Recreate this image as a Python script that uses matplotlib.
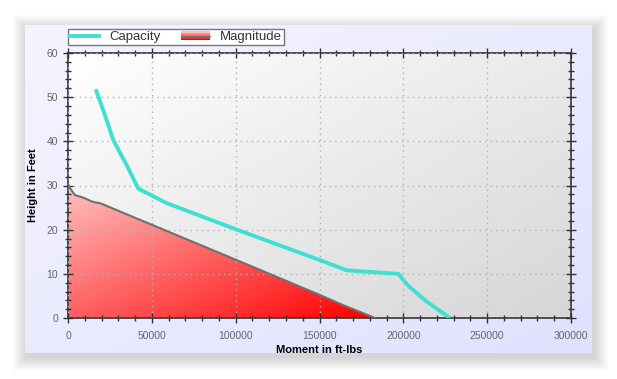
import numpy as np
import matplotlib.pyplot as plt
from matplotlib.patches import Rectangle, Polygon
from matplotlib.lines import Line2D
from matplotlib.legend_handler import HandlerBase
from matplotlib.ticker import MultipleLocator

plt.rcParams['font.family'] = ['Liberation Sans', 'DejaVu Sans']

# capacity curve (moment, height)
cap_x = [16500, 22000, 27000, 35000, 41900, 58900, 98600, 150300, 166200, 197000, 203000, 214000, 227900]
cap_y = [51.8, 46.0, 40.3, 34.6, 29.3, 26.0, 20.3, 13.1, 10.8, 10.0, 7.3, 3.7, 0.0]

# magnitude curve (moment, height)
mag_x = [0, 1200, 4200, 7200, 10100, 14100, 16100, 19100, 100000, 150300, 164200, 183100]
mag_y = [30.3, 29.4, 27.8, 27.5, 27.1, 26.4, 26.2, 26.0, 13.2, 5.2, 2.9, 0.0]

W, H = 617, 379
fig = plt.figure(figsize=(W / 100, H / 100), dpi=100)
fig.patch.set_facecolor('white')

# soft drop shadow behind the panel
px0, py0, px1, py1 = 25, 25, 592, 353
for i in range(14, 0, -1):
    fig.patches.append(Rectangle(((px0 - i + 2) / W, 1 - (py1 + i + 4) / H),
                                 (px1 - px0 + 2 * i) / W, (py1 - py0 + 2 * i) / H,
                                 transform=fig.transFigure, facecolor='black',
                                 alpha=0.01, edgecolor='none', zorder=-5))

# panel with light lavender gradient
pax = fig.add_axes([px0 / W, 1 - py1 / H, (px1 - px0) / W, (py1 - py0) / H], zorder=0)
gy, gx = np.mgrid[0:1:50j, 0:1:50j]
t = (gx + gy) / 2
c0 = np.array([0.96, 0.96, 1.0])
c1 = np.array([0.88, 0.88, 1.0])
pimg = c0[None, None, :] * (1 - t[..., None]) + c1[None, None, :] * t[..., None]
pax.imshow(pimg, extent=[0, 1, 0, 1], aspect='auto', origin='upper')
pax.set_axis_off()

ax = fig.add_axes([68 / W, 1 - 318 / H, 503 / W, 265 / H], zorder=1)

# plot area gradient: white top-left to grey bottom-right
a0 = np.array([1.0, 1.0, 1.0])
a1 = np.array([0.84, 0.84, 0.84])
aimg = a0[None, None, :] * (1 - t[..., None]) + a1[None, None, :] * t[..., None]
ax.imshow(aimg, extent=[0, 1, 0, 1], transform=ax.transAxes, aspect='auto',
          origin='upper', zorder=0)

# magnitude fill with red gradient, clipped to the area under the curve
poly_pts = list(zip(mag_x, mag_y)) + [(mag_x[-1], 0), (0, 0)]
clip = Polygon(poly_pts, closed=True, facecolor='none', edgecolor='none')
ax.add_patch(clip)
r0 = np.array([1.0, 0.75, 0.75])
r1 = np.array([1.0, 0.0, 0.0])
rimg = r0[None, None, :] * (1 - t[..., None]) + r1[None, None, :] * t[..., None]
im = ax.imshow(rimg, extent=[0, max(mag_x), 0, max(mag_y)], aspect='auto',
               origin='upper', zorder=2)
im.set_clip_path(clip)
ax.plot(mag_x, mag_y, color='#707070', lw=1.5, zorder=3)

ax.plot(cap_x, cap_y, color='#40e0d0', lw=2.8, zorder=4, solid_capstyle='butt')

ax.set_aspect('auto')
ax.set_xlim(0, 300000)
ax.set_ylim(0, 60)

ax.xaxis.set_major_locator(MultipleLocator(50000))
ax.xaxis.set_minor_locator(MultipleLocator(10000))
ax.yaxis.set_major_locator(MultipleLocator(10))
ax.yaxis.set_minor_locator(MultipleLocator(2))
ax.grid(True, which='major', color='#b0b0b0', linestyle=(0, (1, 3)), lw=1, zorder=1)
ax.set_axisbelow(False)

ax.tick_params(which='both', direction='inout', top=True, right=True,
               color='#333333', labelsize=7.5, labelcolor='#666666')
ax.tick_params(which='major', length=7, width=1)
ax.tick_params(which='minor', length=4, width=1)
ax.tick_params(axis='x', pad=6)
for s in ax.spines.values():
    s.set_color('#333333')
    s.set_linewidth(1.2)

ax.set_xlabel('Moment in ft-lbs', fontsize=8, fontweight='bold', labelpad=3)
ax.set_ylabel('Height in Feet', fontsize=8, fontweight='bold', labelpad=6)


class GradHandler(HandlerBase):
    def create_artists(self, legend, orig, xd, yd, width, height, fontsize, trans):
        arts = []
        n = 6
        for i in range(n):
            f = i / (n - 1)
            col = (1.0, 0.75 * (1 - f), 0.75 * (1 - f))
            r = Rectangle((xd, yd + height * (1 - (i + 1) / n)), width, height / n,
                          facecolor=col, edgecolor='none', transform=trans)
            arts.append(r)
        arts.append(Line2D([xd, xd + width], [yd + height * 0.45] * 2,
                           color='#777777', lw=1, transform=trans))
        return arts


mag_handle = Rectangle((0, 0), 1, 1)
cap_handle = Line2D([], [], color='#40e0d0', lw=2.8)
leg = fig.legend([cap_handle, mag_handle], ['Capacity', 'Magnitude'],
                 handler_map={Rectangle: GradHandler()},
                 loc='upper left', bbox_to_anchor=(68 / W, 1 - 29 / H),
                 ncol=2, fontsize=9.5, frameon=True, fancybox=False,
                 edgecolor='#777777', facecolor='white', framealpha=1,
                 borderpad=0.15, handlelength=2.2, columnspacing=1.5,
                 handletextpad=0.8, borderaxespad=0)
leg.get_frame().set_linewidth(1)
for tx in leg.get_texts():
    tx.set_color('#333333')

fig.savefig('out.png', dpi=100)
